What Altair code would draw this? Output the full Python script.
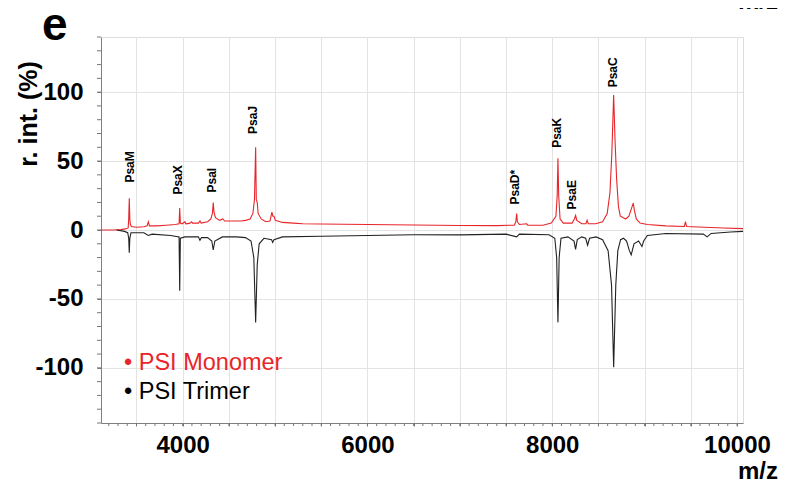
import altair as alt
import pandas as pd

# ---- data ----
mono_mz = [3116, 3250, 3330, 3380, 3410, 3416, 3422, 3428, 3434, 3445, 3500, 3580, 3615, 3628, 3640,
           3720, 3820, 3920, 3961, 3968, 3975, 3995, 4025, 4033, 4075, 4097, 4107, 4170, 4187, 4200,
           4270, 4305, 4322, 4331, 4339, 4355, 4400, 4433, 4455, 4530, 4630, 4680, 4730, 4760, 4777,
           4790, 4797, 4807, 4817, 4850, 4900, 4945, 4966, 4976, 4988, 5003, 5080, 5200, 5300, 5500,
           6000, 6500, 7000, 7400, 7590, 7606, 7615, 7623, 7645, 7723, 7735, 7900, 7990, 8040, 8054,
           8062, 8070, 8085, 8120, 8215, 8240, 8253, 8266, 8320, 8365, 8378, 8390, 8470, 8545, 8595,
           8625, 8645, 8665, 8680, 8697, 8717, 8737, 8765, 8795, 8830, 8860, 8877, 8890, 8910, 8950,
           9030, 9230, 9430, 9442, 9454, 9650, 9850, 10065]
mono_int = [0, 0, 0.3, 0.8, 1.5, 8, 23, 8, 4, 2.5, 2, 2.3, 3, 6, 3,
            3, 3.5, 4, 4.5, 16, 5, 4.5, 6, 4.5, 4.8, 6, 5, 5, 6.5, 5,
            6, 8, 12, 20, 13, 9, 7, 8, 6.5, 6.5, 6.5, 7, 8, 12, 22,
            60, 22, 20, 12, 8, 6, 6.5, 13, 10, 10, 7, 5.5, 5, 4.5, 4.3,
            4, 3.6, 3.3, 3.2, 3.5, 6, 12, 6, 4, 4.5, 3.5, 3.5, 5, 10, 25,
            52, 25, 8, 5, 5, 8, 10.5, 7, 4.5, 4.5, 7, 4.5, 4.5, 6, 12,
            27, 55, 98, 65, 37, 17, 10, 9, 8, 10, 16, 19.5, 14, 8, 5,
            4, 3, 2.5, 6, 2.5, 2, 1.5, 1]

tri_mz = [3286, 3370, 3405, 3416, 3422, 3428, 3440, 3580, 3628, 3670, 3870, 3961, 3968, 3975, 4025,
          4097, 4170, 4187, 4203, 4270, 4315, 4331, 4348, 4430, 4580, 4680, 4740, 4770, 4790, 4807,
          4828, 4880, 4962, 4974, 4988, 5080, 5500, 6000, 6500, 7000, 7500, 7615, 7645, 7965, 8028,
          8048, 8062, 8075, 8095, 8170, 8236, 8253, 8271, 8320, 8362, 8383, 8404, 8475, 8545, 8605,
          8642, 8665, 8688, 8710, 8740, 8772, 8805, 8835, 8855, 8870, 8885, 8935, 8971, 8990, 9030,
          9230, 9635, 9677, 9720, 9930, 10065]
tri_int = [0, -1, -2, -6, -16.5, -6, -2, -2, -4, -3, -4, -5, -44, -6, -5,
           -5, -5, -7.5, -5.5, -5.5, -8, -14.5, -8, -5, -5, -5.5, -8, -20, -67, -25,
           -10, -6, -7, -9, -7, -5, -4.5, -4, -3.5, -3.5, -3, -5, -3, -3.5, -6,
           -20, -67, -20, -6, -5, -8, -14, -7, -5, -6, -11, -6, -5, -7, -15,
           -40, -99.5, -40, -15, -7, -6, -8, -15, -18, -14, -10, -8, -12, -8, -4,
           -2.5, -3, -5, -2.5, -1.5, -1]

series_names = ["PSI Monomer", "PSI Trimer"]
series_colors = ["#e8262a", "#222222"]

peak_names = ["PsaM", "PsaX", "PsaI", "PsaJ", "PsaD*", "PsaK", "PsaE", "PsaC"]
peak_mz = [3430, 3949, 4317, 4761, 7597, 8051, 8213, 8657]
peak_label_y = [34.4, 25.7, 27.2, 69.7, 18.5, 59.6, 14.9, 103.5]

x_minor_ticks = list(range(3200, 10001, 100))
x_grid_ticks = list(range(3500, 10001, 500))
y_minor_ticks = list(range(-140, 141, 10))
y_labels = [-100, -50, 0, 50, 100]
x_domain = [3116, 10065]
y_domain = [-140, 140]

FONT = "Liberation Sans"
W, H = 642, 386

spec = pd.DataFrame(
    {"mz": mono_mz + tri_mz,
     "int": mono_int + tri_int,
     "series": [series_names[0]] * len(mono_mz) + [series_names[1]] * len(tri_mz)}
)
peaks = pd.DataFrame({"mz": peak_mz, "int": peak_label_y, "name": peak_names})

xscale = alt.Scale(domain=x_domain, nice=False, zero=False)
yscale = alt.Scale(domain=y_domain, nice=False, zero=False)

xaxis_main = alt.Axis(
    values=x_grid_ticks, title=None, format="d",
    labelExpr="datum.value % 2000 === 0 ? datum.label : ''",
    grid=True, gridColor="#e3e3e3", gridWidth=1,
    tickSize=3, tickColor="#777777", domainColor="#808080",
    labelFont=FONT, labelFontSize=24, labelFontWeight="bold", labelColor="#000000",
    labelPadding=7, labelFlush=False, labelOverlap=False,
)
yaxis_main = alt.Axis(
    values=y_labels, title=None, format="d",
    labelExpr="replace(datum.label, '\u2212', '-')",
    grid=True, gridColor="#e3e3e3", gridWidth=1,
    tickSize=4, tickColor="#777777", domainColor="#808080",
    labelFont=FONT, labelFontSize=24, labelFontWeight="bold", labelColor="#000000",
    labelPadding=14, labelFlush=False, labelOverlap=False,
)

X = alt.X("mz:Q", scale=xscale, axis=xaxis_main)
Y = alt.Y("int:Q", scale=yscale, axis=yaxis_main)

lines = alt.Chart(spec).mark_line(strokeWidth=1.1, clip=True).encode(
    x=X, y=Y,
    color=alt.Color("series:N", scale=alt.Scale(domain=series_names, range=series_colors), legend=None),
    detail="series:N",
)

# minor ticks drawn from the tick value lists through the scales
xt = alt.Chart(pd.DataFrame({"mz": x_minor_ticks})).mark_rule(color="#777777", strokeWidth=1).encode(
    x=X, y=alt.value(H), y2=alt.value(H + 3),
)
yt = alt.Chart(pd.DataFrame({"int": y_minor_ticks})).mark_rule(color="#777777", strokeWidth=1).encode(
    y=Y, x=alt.value(-4), x2=alt.value(0),
)

labels = alt.Chart(peaks).mark_text(
    angle=270, align="left", baseline="middle", font=FONT, fontSize=12, fontWeight="bold", color="#000000"
).encode(x=X, y=Y, text="name:N")

legend_df = pd.DataFrame({"txt": ["• " + s for s in series_names], "series": series_names,
                          "ypx": [326, 355]})
legend = alt.Chart(legend_df).mark_text(
    align="left", baseline="middle", font=FONT, fontSize=23.5
).encode(
    x=alt.value(23),
    y=alt.Y("ypx:Q", scale=None),
    text="txt:N",
    color=alt.Color("series:N", scale=alt.Scale(domain=series_names, range=["#e8262a", "#000000"]), legend=None),
)

def txt(t, x, y, size, angle=0, align="left", baseline="alphabetic", weight="bold"):
    return alt.Chart(pd.DataFrame({"t": [t]})).mark_text(
        align=align, baseline=baseline, font=FONT, fontSize=size, fontWeight=weight,
        angle=angle, color="#000000"
    ).encode(x=alt.value(x), y=alt.value(y), text="t:N")

panel = txt("e", -59, 3, 46)
ytitle = txt("r. int. (%)", -72, 77, 25, angle=270, align="center", baseline="middle")
mz_bottom = txt("m/z", 677, 442, 24, align="right")
mz_top = txt("m/z", 677, -28, 24, align="right")

chart = alt.layer(lines, xt, yt, labels, legend, panel, ytitle, mz_bottom, mz_top).resolve_scale(
    color="independent"
).properties(
    width=W, height=H,
    autosize=alt.AutoSizeParams(type="none"),
    padding={"left": 93, "top": 29, "right": 40, "bottom": 61},
).configure_view(stroke="#8a8a8a", strokeWidth=1).configure(background="white")

chart.save("out.html", embed_options={"renderer": "svg", "actions": False})
